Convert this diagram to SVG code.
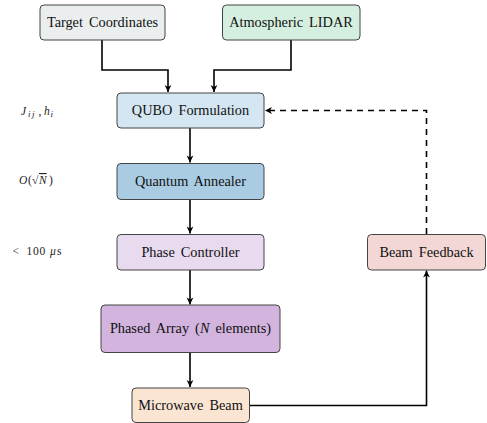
<svg xmlns="http://www.w3.org/2000/svg" width="487" height="423" viewBox="0 0 487 423">
<style>
.box{stroke:#444;stroke-width:1}
.lbl{font-family:'Liberation Serif','DejaVu Serif','Times New Roman',serif;font-size:14.3px;fill:#111;text-anchor:middle;word-spacing:2.5px}
.math{font-family:'Liberation Serif','DejaVu Serif','Times New Roman',serif;font-size:11.5px;fill:#222;font-style:italic}
.up{font-style:normal}
.sub{font-size:9px}
.edge{fill:none;stroke:#000;stroke-width:1.6}
.dash{stroke-dasharray:6,5}
</style>
<defs>
<marker id="ah" viewBox="-8 -4 9 8" refX="0" refY="0" markerWidth="9" markerHeight="8" markerUnits="userSpaceOnUse" orient="auto">
<path d="M0,0 L-7,-3.4 L-5,0 L-7,3.4 Z" fill="#000"/>
</marker>
</defs>
<g id="connectors">
<path class="edge" d="M102,40 V70 H168 V92" marker-end="url(#ah)"/>
<path class="edge" d="M291,40 V70 H214 V92" marker-end="url(#ah)"/>
<path class="edge" d="M190,128 V162.5" marker-end="url(#ah)"/>
<path class="edge" d="M190,199.5 V233.5" marker-end="url(#ah)"/>
<path class="edge" d="M190,270 V304.5" marker-end="url(#ah)"/>
<path class="edge" d="M190,352.5 V387" marker-end="url(#ah)"/>
<path class="edge" d="M249.5,405.5 H426.5 V270.5" marker-end="url(#ah)"/>
<path class="edge dash" d="M426.5,234 V110.5 H265" marker-end="url(#ah)"/>
</g>
<g id="target">
<rect class="box" x="40" y="5" width="125" height="35" rx="4" fill="#EAEEEF"/>
<text class="lbl" x="102.5" y="27">Target Coordinates</text>
</g>
<g id="lidar">
<rect class="box" x="222.5" y="5" width="137.5" height="35" rx="4" fill="#D4EFDF"/>
<text class="lbl" x="291" y="27">Atmospheric LIDAR</text>
</g>
<g id="qubo">
<rect class="box" x="117" y="93" width="147" height="35" rx="4" fill="#D4E6F1"/>
<text class="lbl" x="190.5" y="115">QUBO Formulation</text>
</g>
<g id="annealer">
<rect class="box" x="117" y="163.5" width="147" height="36" rx="4" fill="#A9CCE3"/>
<text class="lbl" x="190.5" y="186">Quantum Annealer</text>
</g>
<g id="phasectrl">
<rect class="box" x="117" y="234.5" width="147" height="35.5" rx="4" fill="#E8DAEF"/>
<text class="lbl" x="190.5" y="257">Phase Controller</text>
</g>
<g id="feedback">
<rect class="box" x="367.5" y="234.5" width="118" height="35.5" rx="4" fill="#F2D7D5"/>
<text class="lbl" x="426.5" y="257">Beam Feedback</text>
</g>
<g id="array">
<rect class="box" x="101" y="305" width="179" height="47.5" rx="4" fill="#D2B4DE"/>
<text class="lbl" x="190.5" y="333">Phased Array (<tspan font-style="italic">N</tspan> elements)</text>
</g>
<g id="beam">
<rect class="box" x="132" y="388" width="117.5" height="34.5" rx="4" fill="#FAE5D3"/>
<text class="lbl" x="190.5" y="410">Microwave Beam</text>
</g>
<g id="annotations">
<text class="math" y="115"><tspan x="21">J</tspan><tspan class="sub" x="28" dy="2" letter-spacing="1.5">ij</tspan><tspan class="up" x="38.5" dy="-2">,</tspan><tspan x="44">h</tspan><tspan class="sub" x="50.5" dy="2">i</tspan></text>
<text class="math" y="184"><tspan x="19">O</tspan><tspan class="up" x="28">(</tspan><tspan class="up" x="32">√</tspan><tspan x="39" text-decoration="overline">N</tspan><tspan class="up" x="49">)</tspan></text>
<text class="math up" y="255"><tspan x="12.5">&lt;</tspan><tspan x="26.5" letter-spacing="0.8">100</tspan><tspan x="50" font-style="italic">μ</tspan><tspan x="57">s</tspan></text>
</g>
</svg>
